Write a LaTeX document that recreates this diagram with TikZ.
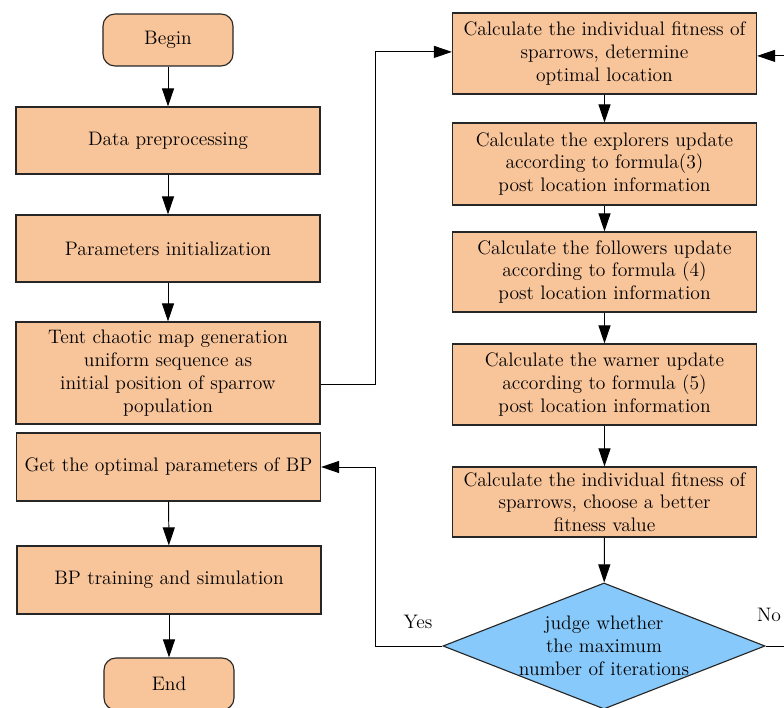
\documentclass[tikz,border=0pt]{standalone}
\usetikzlibrary{shapes.geometric}
\usetikzlibrary{arrows.meta}
\usetikzlibrary{calc}
\definecolor{peach}{RGB}{248,196,154}
\definecolor{skyblue}{RGB}{135,201,250}
\tikzstyle{procbox}=[rectangle,draw=black!85,fill=peach,line width=0.8pt,minimum width=7.6cm,inner sep=2pt,align=center,font=\fontsize{13.9}{16.2}\selectfont]
\tikzstyle{termbox}=[procbox,rounded corners=0.3cm,minimum width=3.25cm,minimum height=1.3cm]
\tikzstyle{decision}=[diamond,aspect=2.55,draw=black!85,fill=skyblue,line width=0.8pt,minimum width=8.05cm,minimum height=3.15cm,inner sep=0pt,align=center,font=\fontsize{13.9}{16.2}\selectfont]
\tikzstyle{flow}=[-{Triangle[length=0.45cm,width=0.3cm]},line width=0.7pt]
\tikzstyle{weight}=[font=\fontsize{13.9}{16.2}\selectfont]

\begin{document}
\begin{tikzpicture}[x=0.025cm,y=-0.025cm]
\useasboundingbox (0,0) rectangle (784,708);
\clip (0,0) rectangle (784,708);

%left column
    \node[termbox] (begin) at (168,40) {Begin};
    \node[termbox] (end) at (169,684) {End};
    \foreach \pos/\name/\h/\txt in {{(168,140.5)/data/1.675/{Data preprocessing}},
        {(168,248.5)/params/1.675/{Parameters initialization}},
        {(168,373)/tent/2.55/{Tent chaotic map generation\\uniform sequence as\\initial position of sparrow\\population}},
        {(168.5,467)/getbp/1.7/{Get the optimal parameters of BP}},
        {(169,580)/train/1.7/{BP training and simulation}}}
        \node[procbox,minimum height=\h cm] (\name) at \pos {\txt};

%right column
    \foreach \pos/\name/\h/\txt in {{(604.5,53.5)/fitone/2.025/{Calculate the individual fitness of\\sparrows, determine\\optimal location}},
        {(604.5,164)/explorer/2.05/{Calculate the explorers update\\according to formula(3)\\post location information}},
        {(604.5,272)/follower/2.0/{Calculate the followers update\\according to formula (4)\\post location information}},
        {(604.5,384.5)/warner/2.025/{Calculate the warner update\\according to formula (5)\\post location information}},
        {(604.5,502)/fittwo/1.75/{Calculate the individual fitness of\\sparrows, choose a better\\fitness value}}}
        \node[procbox,minimum height=\h cm] (\name) at \pos {\txt};
    \node[decision] (judge) at (604,646) {judge whether\\the maximum\\number of iterations};

    \coordinate (lbus) at (375,0);
    \coordinate (rbus) at (800,0);

  \foreach \source/ \dest in {begin/data, data/params, params/tent, getbp/train, train/end,
        fitone/explorer, explorer/follower, follower/warner, warner/fittwo, fittwo/judge}
          \draw[flow] (\source) -- (\dest);

\draw[flow] ([yshift=-0.275cm]tent.east) -- ([yshift=-0.275cm]tent.east -| lbus) |- ([yshift=0.04cm]fitone.west);
\draw[flow] (judge.west) -- (judge.west -| lbus) |- (getbp.east);
\draw[flow] (judge.east) -- (judge.east -| rbus) |- ([yshift=-0.06cm]fitone.east);
\node[weight] (yes) at (418,622) {Yes};
\node[weight] (no) at (769,615) {No};

\end{tikzpicture}
\end{document}
